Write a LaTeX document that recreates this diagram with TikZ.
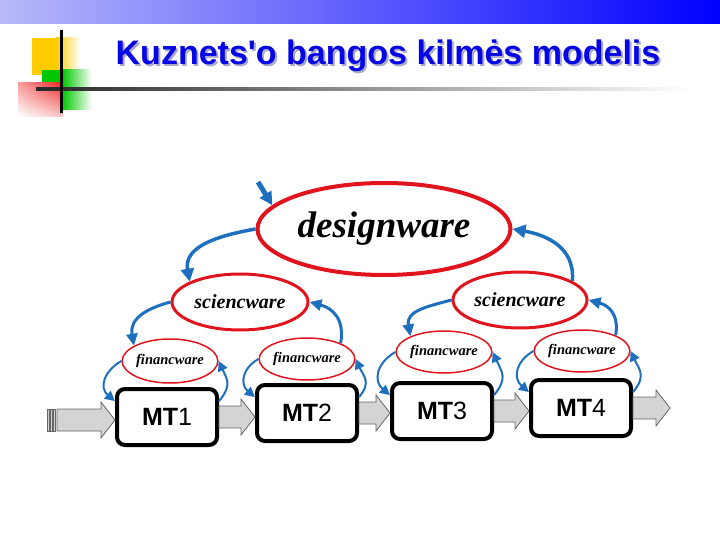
\documentclass[tikz,border=0pt]{standalone}
\usepackage{fontspec}
\setmainfont{Liberation Serif}
\newfontfamily\titlefont{Liberation Sans}
\newfontfamily\mtfont{Liberation Sans}
\usepackage{tikz}
\usetikzlibrary{positioning,shapes.geometric,arrows.meta,calc,shadings}
\definecolor{linkblue}{RGB}{30,112,190}
\definecolor{ovalred}{RGB}{225,20,30}
\definecolor{titleblue}{RGB}{5,5,230}
\definecolor{titleshadow}{RGB}{170,170,200}
\definecolor{barlight}{RGB}{185,185,250}
\definecolor{barmid}{RGB}{140,140,250}
\definecolor{sqyellow}{RGB}{255,204,0}
\definecolor{sqgreen}{RGB}{0,200,0}
\definecolor{sqred}{RGB}{240,40,40}
\definecolor{fatgray}{RGB}{212,212,212}

\newcommand{\fatarrow}[2]{%
  \draw[fat] ($(#1)+(0,-11)$) -- ($(#2)+(-14,-11)$) -- ($(#2)+(-14,-18)$) -- (#2)
    -- ($(#2)+(-14,18)$) -- ($(#2)+(-14,11)$) -- ($(#1)+(0,11)$) -- cycle;}

\begin{document}
\begin{tikzpicture}[x=1pt, y=-1pt,
    oval/.style={ellipse, draw=ovalred, inner sep=0pt},
    mtbox/.style={draw, line width=4pt, rounded corners=8pt, fill=white, minimum width=100pt, minimum height=56pt, font=\mtfont\fontsize{25}{25}\selectfont},
    link/.style={linkblue, line width=2pt, -{Triangle[length=10pt, width=10pt]}},
    linkB/.style={link, line width=3pt, -{Triangle[length=12pt, width=11pt]}},
    linkA/.style={link, line width=3.5pt, -{Triangle[length=13pt, width=13pt]}},
    fat/.style={draw=black!60, fill=fatgray, line width=0.8pt},
    ttl/.style={font=\titlefont\fontsize{34}{34}\selectfont\bfseries, anchor=base}
  ]
    \useasboundingbox (0,0) rectangle (720,540);
    \shade[left color=barlight, middle color=barmid, right color=blue] (0,0) rectangle (720,24);
    \fill[sqyellow] (32,38) rectangle (56,75);
    \shade[left color=sqyellow, right color=white] (56,38) rectangle (80,75);
    \fill[sqgreen] (42,70) rectangle (62,110);
    \shade[left color=sqgreen, right color=white] (62,70) rectangle (92,110);
    \shade[upper left=sqred!45, upper right=sqred, lower left=white, lower right=sqred!25] (18,83) rectangle (63,117);
    \shade[left color=black!85, right color=white] (36,88) rectangle (690,91);
    \draw[line width=3pt] (61,30) -- (61,113);
    \node[ttl, text=titleshadow] (ts) at (390,67) {Kuznets'o bangos kilmės modelis};
    \node[ttl, text=titleblue] (t) at (388,65) {Kuznets'o bangos kilmės modelis};

    \node[oval, line width=4pt, minimum width=253pt, minimum height=92pt, font=\fontsize{37}{37}\selectfont\bfseries\itshape] (d) at (384,229) {designware};
    \node[oval, line width=3pt, minimum width=136pt, minimum height=56pt, font=\fontsize{20}{20}\selectfont\bfseries\itshape] (s1) at (240,302) {sciencware};
    \node[oval, line width=3pt, minimum width=134pt, minimum height=56pt, font=\fontsize{20}{20}\selectfont\bfseries\itshape] (s2) at (520,300) {sciencware};
    \node[oval, line width=1.5pt, minimum width=94pt, minimum height=44pt, font=\fontsize{14.5}{15}\selectfont\bfseries\itshape] (f1) at (170,361) {financware};
    \node[oval, line width=1.5pt, minimum width=91pt, minimum height=42pt, font=\fontsize{14.5}{15}\selectfont\bfseries\itshape] (f2) at (307,359) {financware};
    \node[oval, line width=1.5pt, minimum width=92pt, minimum height=42pt, font=\fontsize{14.5}{15}\selectfont\bfseries\itshape] (f3) at (444,352) {financware};
    \node[oval, line width=1.5pt, minimum width=91pt, minimum height=42pt, font=\fontsize{14.5}{15}\selectfont\bfseries\itshape] (f4) at (582,351) {financware};
    \node[mtbox] (m1) at (167,417) {\textbf{MT}1};
    \node[mtbox] (m2) at (307,413) {\textbf{MT}2};
    \node[mtbox] (m3) at (442,411) {\textbf{MT}3};
    \node[mtbox] (m4) at (581,408) {\textbf{MT}4};
    \coordinate (d0) at (258,182);
    \coordinate (i0) at (57,420);
    \coordinate (o0) at (670,408);

    \draw[linkA, line width=5pt] (d0) -- (d.168);
    \draw[linkA] (d.west) to[out=190, in=100, looseness=1.1] (s1.158);
    \draw[linkA] (s2.20) to[out=85, in=-10, looseness=1.1] (d.east);
    \draw[linkB] (s1.west) to[out=195, in=100, looseness=1.2] (f1.157);
    \draw[linkB] (f2.25) to[out=80, in=-15, looseness=1.2] (s1.east);
    \draw[linkB] (s2.west) to[out=195, in=100, looseness=1.2] (f3.155);
    \draw[linkB] (f4.25) to[out=80, in=-15, looseness=1.2] (s2.east);
    \foreach \i in {1,...,4} {
      \draw[link] (f\i.west) to[out=210, in=140, looseness=1.3] (m\i.163);
      \draw[link] (m\i.17) to[out=50, in=-65, looseness=1.3] (f\i.east);
    }

    \foreach \x in {47,50,53} \draw[fat] (\x,409) rectangle +(2,22);
    \fatarrow{i0}{m1.west |- i0}
    \fatarrow{m1.east}{m2.west |- m1.east}
    \fatarrow{m2.east}{m3.west |- m2.east}
    \fatarrow{m3.east}{m4.west |- m3.east}
    \fatarrow{m4.east}{o0}
\end{tikzpicture}
\end{document}
